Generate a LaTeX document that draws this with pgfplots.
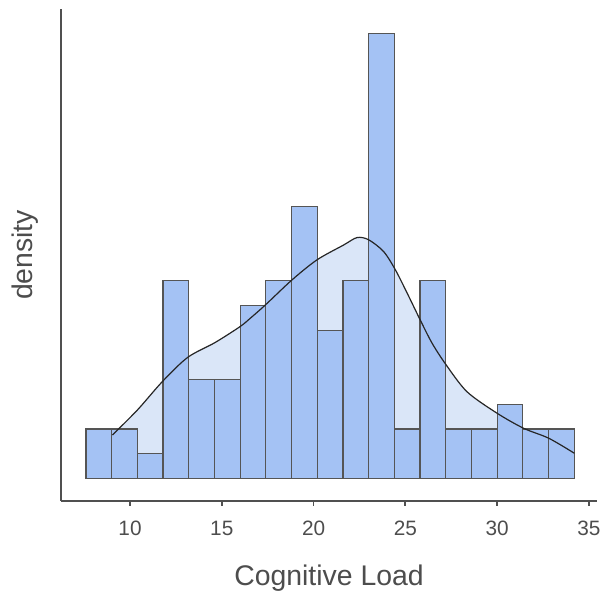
\documentclass[border=0pt]{standalone}
\usepackage{pgfplots}
\pgfplotsset{compat=1.18}
\usepackage{fontspec}
\setmainfont{Liberation Sans}

\definecolor{barfill}{RGB}{164,194,244}
\definecolor{densfill}{RGB}{218,230,248}
\definecolor{edgegray}{RGB}{85,85,85}
\definecolor{axisgray}{RGB}{80,80,80}
\definecolor{textgray}{RGB}{77,77,77}

\begin{document}
\begin{tikzpicture}
\useasboundingbox (-30.5pt,-48pt) rectangle (272.5pt,250.5pt);
\begin{axis}[
  at={(0pt,0pt)}, anchor=south west,
  scale only axis,
  width=268pt, height=246pt,
  xmin=6.24, xmax=35.44,
  ymin=-0.91, ymax=19.0,
  axis x line*=bottom, axis y line*=left,
  axis line style={axisgray, line width=0.7pt, -},
  xtick={10,15,20,25,30,35},
  ytick=\empty,
  tick align=outside,
  major tick length=2.5pt,
  tick style={axisgray, line width=0.9pt},
  /pgf/number format/assume math mode=true,
  ticklabel style={font=\fontsize{10.4}{12}\selectfont, text=textgray},
  xticklabel style={yshift=-4pt},
  xlabel={Cognitive Load},
  ylabel={density},
  label style={font=\fontsize{14.2}{16}\selectfont, text=textgray},
  xlabel style={at={(axis description cs:0.5,0)}, anchor=center, yshift=-38.5pt},
  ylabel style={at={(axis description cs:0,0.5)}, anchor=center, yshift=18pt},
  clip=false,
]
% kernel density estimate, scaled to counts, shaded underneath
\addplot[draw=none, fill=densfill, smooth] coordinates {
  (9.04,1.76) (10.40,2.77) (11.76,3.92) (13.14,4.90) (14.63,5.50)
  (16.00,6.15) (16.56,6.49) (17.37,7.02) (18.83,8.04) (20.19,8.85)
  (21.64,9.45) (22.37,9.75) (23.00,9.66) (23.82,9.18) (24.46,8.44)
  (25.10,7.50) (25.82,6.40) (26.46,5.47) (27.22,4.60) (28.36,3.51)
  (30.00,2.64) (31.45,2.03) (32.81,1.63) (34.21,1.02)
} \closedcycle;
% histogram, bin width 1.4
\addplot[ybar interval, fill=barfill, draw=edgegray, line width=0.6pt] coordinates {
  (7.6,2) (9.0,2) (10.4,1) (11.8,8) (13.2,4) (14.6,4) (16.0,7)
  (17.4,8) (18.8,11) (20.2,6) (21.6,8) (23.0,18) (24.4,2) (25.8,8)
  (27.2,2) (28.6,2) (30.0,3) (31.4,2) (32.8,2) (34.2,2)
};
% density outline
\addplot[black!85, line width=0.6pt, smooth] coordinates {
  (9.04,1.76) (10.40,2.77) (11.76,3.92) (13.14,4.90) (14.63,5.50)
  (16.00,6.15) (16.56,6.49) (17.37,7.02) (18.83,8.04) (20.19,8.85)
  (21.64,9.45) (22.37,9.75) (23.00,9.66) (23.82,9.18) (24.46,8.44)
  (25.10,7.50) (25.82,6.40) (26.46,5.47) (27.22,4.60) (28.36,3.51)
  (30.00,2.64) (31.45,2.03) (32.81,1.63) (34.21,1.02)
};
\end{axis}
\end{tikzpicture}
\end{document}
